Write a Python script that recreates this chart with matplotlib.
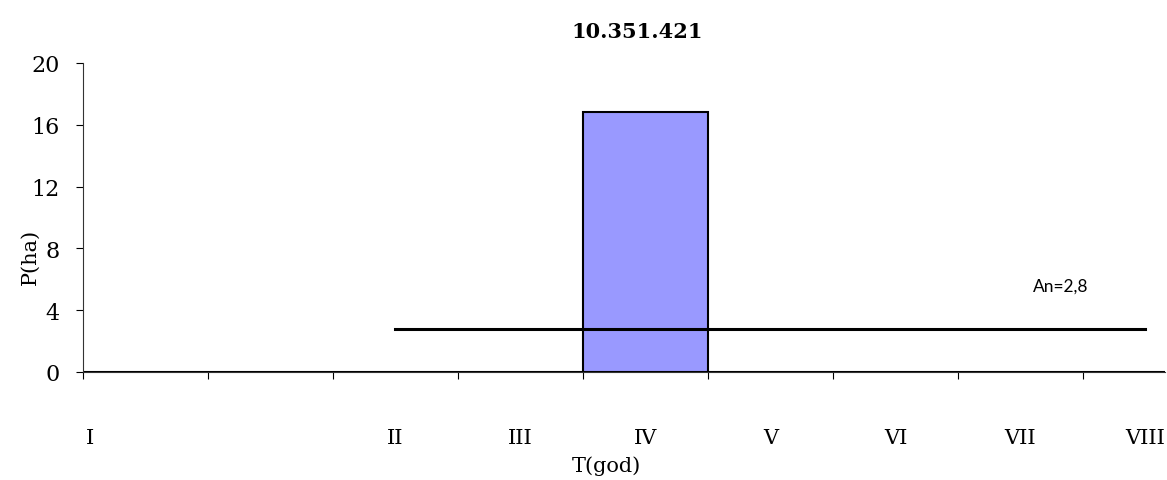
import matplotlib
matplotlib.use("Agg")
import matplotlib.pyplot as plt

# ---- data ----
slot_labels = ["I", "", "II", "III", "IV", "V", "VI", "VII", "VIII"]
bar_values = [0, 0, 0, 0, 16.8, 0, 0, 0, 0]
avg_value = 2.8
avg_from_slot = 2   # "II"
avg_to_slot = 8     # "VIII"
y_ticks = [0, 4, 8, 12, 16, 20]
title = "10.351.421"
avg_label = "An=2,8"

fig = plt.figure(figsize=(11.67, 4.81), dpi=100)
ax = fig.add_axes([83/1167, 1-373/481, (1165-83)/1167, (373-64)/481])

n = len(slot_labels)
centers = [i + 0.5 for i in range(n)]
ax.bar(centers, bar_values, width=1.0, color="#9999FF", edgecolor="black", linewidth=1.5, zorder=2)
xs = centers[avg_from_slot:avg_to_slot + 1]
ax.plot(xs, [avg_value] * len(xs), color="black", linewidth=2.2, zorder=3)
ax.text(7.82, 5.57, avg_label, fontsize=12.5, family="Lato", ha="center", va="center")

ax.set_xlim(0, (1165 - 83) / 125)
ax.set_ylim(0, 20)
ax.set_yticks(y_ticks)
ax.set_yticklabels([str(v) for v in y_ticks], fontsize=16, family="DejaVu Serif")
ax.set_xticks(list(range(n)))
ax.set_xticklabels([])
label_pos = [0.056] + centers[1:]
ax.set_xticks(label_pos, slot_labels, minor=True)
ax.tick_params(axis="x", which="minor", length=0, pad=40, labelsize=15)
for t in ax.get_xticklabels(minor=True):
    t.set_family("DejaVu Serif")
ax.tick_params(axis="x", which="major", length=5, direction="out")
ax.tick_params(axis="y", length=5, pad=12)

for s in ["top", "right"]:
    ax.spines[s].set_visible(False)
ax.spines["left"].set_color("#333333")
ax.spines["bottom"].set_color("#333333")

ax.set_ylabel("P(ha)", fontsize=15, family="DejaVu Serif")
ax.yaxis.set_label_coords(-0.040, 0.375)
ax.set_xlabel("T(god)", fontsize=15, family="DejaVu Serif")
ax.xaxis.set_label_coords(0.484, -0.270)

fig.text(637/1167, 1-32/481, title, fontsize=15, fontweight="bold", family="DejaVu Serif", ha="center", va="center")

fig.savefig("out.png", dpi=100)
